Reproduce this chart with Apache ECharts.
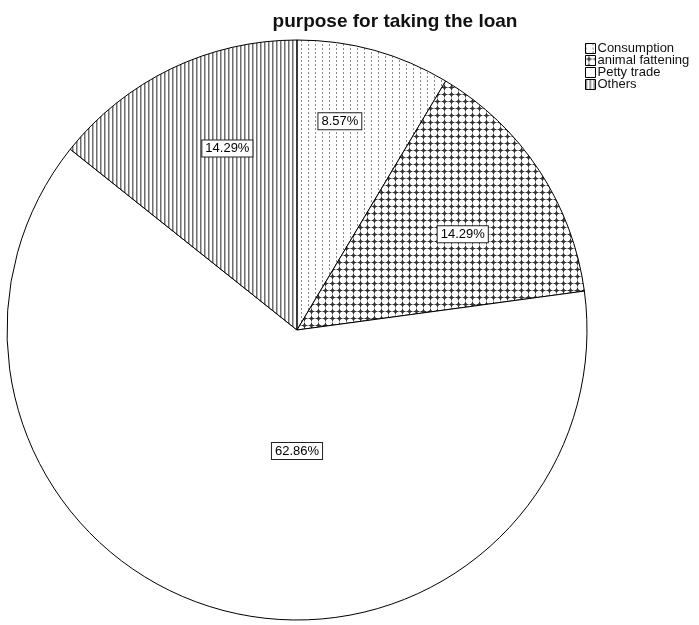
<!DOCTYPE html>
<html>
<head>
<meta charset="utf-8">
<script src="https://cdn.jsdelivr.net/npm/echarts@6/dist/echarts.min.js"></script>
<style>
html,body{margin:0;padding:0;background:#fff;}
#chart{width:699px;height:625px;}
</style>
</head>
<body>
<div id="chart"></div>
<script>
const titleText = 'purpose for taking the loan';
const categories = ['Consumption', 'animal fattening', 'Petty trade', 'Others'];
const percentages = [8.57, 14.29, 62.86, 14.29];
// label placement within each slice: [angle from top (deg, clockwise), fraction of radius]
const labelPolar = [[11.6, 0.735], [60, 0.66], [180, 0.417], [339, 0.67]];

const CX = 297, CY = 330, R = 290;

function makeTile(w, h, draw) {
  const c = document.createElement('canvas');
  c.width = w; c.height = h;
  const ctx = c.getContext('2d');
  ctx.fillStyle = '#ffffff';
  ctx.fillRect(0, 0, w, h);
  draw(ctx);
  return { image: c, repeat: 'repeat' };
}
const dotted = makeTile(7, 4, ctx => {
  ctx.fillStyle = '#8a8a8a';
  ctx.fillRect(0, 0, 1, 2);
});
const crosses = makeTile(7, 7, ctx => {
  ctx.fillStyle = '#7c7c7c';
  ctx.fillRect(2, 2, 3, 3);
  ctx.fillStyle = '#333333';
  ctx.fillRect(3, 1, 1, 5);
  ctx.fillRect(1, 3, 5, 1);
  ctx.fillStyle = '#a0a0a0';
  ctx.fillRect(3, 0, 1, 1); ctx.fillRect(3, 6, 1, 1);
  ctx.fillRect(0, 3, 1, 1); ctx.fillRect(6, 3, 1, 1);
});
const plain = '#ffffff';
const vlines = makeTile(4, 1, ctx => {
  ctx.fillStyle = '#6e6e6e';
  ctx.fillRect(0, 0, 1, 1);
  ctx.fillStyle = '#b5b5b5';
  ctx.fillRect(1, 0, 1, 1);
});
const fills = [dotted, crosses, plain, vlines];

const chart = echarts.init(document.getElementById('chart'), null, { renderer: 'canvas' });
chart.setOption({
  backgroundColor: '#ffffff',
  animation: false,
  title: {
    text: titleText,
    left: 390,
    textAlign: 'center',
    top: 7,
    textStyle: { fontFamily: 'Liberation Sans, Arial, sans-serif', fontSize: 19, fontWeight: 'bold', color: '#111' }
  },
  legend: {
    orient: 'vertical',
    left: 585,
    top: 42,
    itemWidth: 10,
    itemHeight: 10,
    itemGap: -1,
    icon: 'rect',
    padding: 0,
    textStyle: { fontFamily: 'Liberation Sans, Arial, sans-serif', fontSize: 13, lineHeight: 12, color: '#111', padding: [0, 0, 0, -3] },
    itemStyle: { borderColor: '#000', borderWidth: 1 },
    data: categories
  },
  series: [{
    type: 'pie',
    center: [CX, CY],
    radius: R,
    startAngle: 90,
    clockwise: true,
    silent: true,
    itemStyle: { borderColor: '#000', borderWidth: 1 },
    emphasis: { disabled: true },
    label: {
      show: true,
      position: 'inside',
      formatter: p => p.value.toFixed(2) + '%',
      fontFamily: 'Liberation Sans, Arial, sans-serif',
      fontSize: 13,
      color: '#000',
      backgroundColor: '#fff',
      borderColor: '#222',
      borderWidth: 1,
      padding: [2, 3, 1, 3]
    },
    labelLine: { show: false },
    labelLayout: function (params) {
      const lp = labelPolar[params.dataIndex];
      const a = lp[0] * Math.PI / 180;
      return { x: CX + R * lp[1] * Math.sin(a), y: CY - R * lp[1] * Math.cos(a) };
    },
    data: categories.map((c, i) => ({ name: c, value: percentages[i], itemStyle: { color: fills[i] } }))
  }]
});
</script>
</body>
</html>
